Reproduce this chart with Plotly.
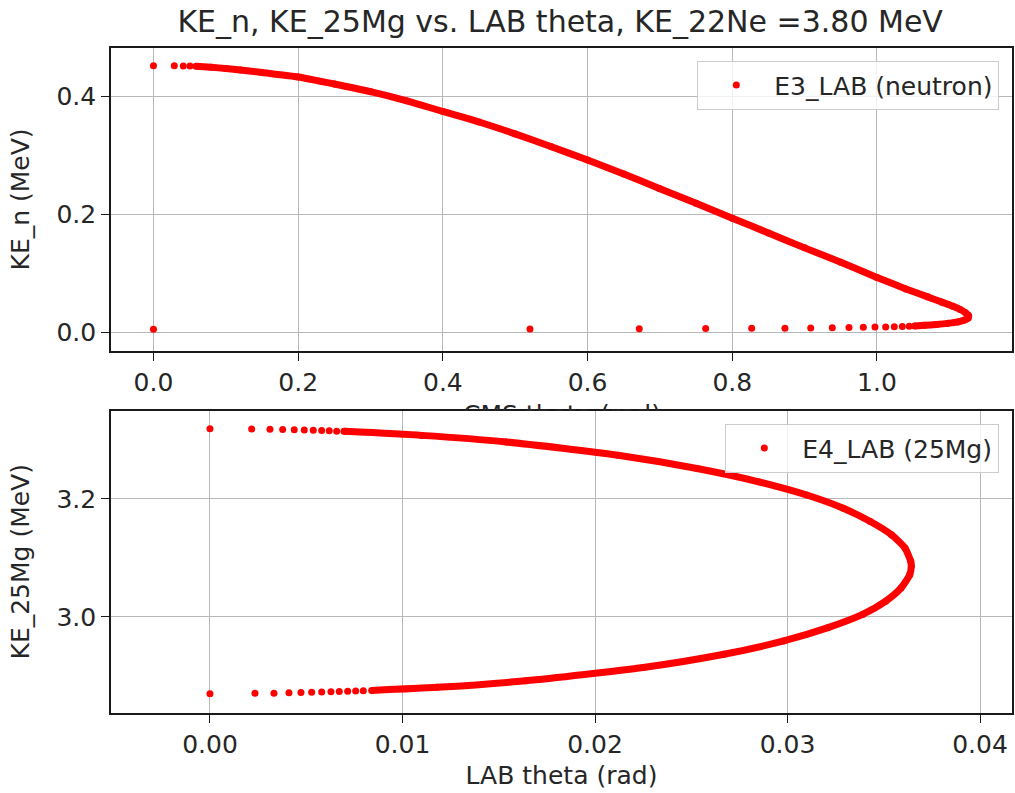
import plotly.graph_objects as go

# ---------------- data ----------------
# Top panel: KE_n vs angle -- isolated (resolvable) dots
n_sparse_x = [0.0, 0.0288, 0.0412, 0.0505,
              0.0, 0.5204, 0.6714, 0.7632, 0.8268, 0.8728, 0.9084, 0.9382,
              0.9613, 0.9811, 0.9972, 1.0120, 1.0239, 1.0350, 1.0446]
n_sparse_y = [0.4526, 0.4524, 0.4522, 0.4520,
              0.0050, 0.0054, 0.0058, 0.0061, 0.0065, 0.0068, 0.0072, 0.0075,
              0.0079, 0.0083, 0.0086, 0.0090, 0.0094, 0.0097, 0.0101]
# Top panel: dense (overlapping) part of the same point series
n_dense_x = [0.0588, 0.08, 0.10, 0.12, 0.15, 0.20, 0.25, 0.30, 0.35, 0.40,
             0.45, 0.50, 0.55, 0.60, 0.65, 0.70, 0.75, 0.80, 0.85, 0.90,
             0.95, 1.00, 1.04, 1.07, 1.09, 1.105, 1.115, 1.122, 1.1265,
             1.126, 1.121, 1.112, 1.098, 1.082, 1.066, 1.052]
n_dense_y = [0.4518, 0.4500, 0.4478, 0.4455, 0.4410, 0.4335, 0.4215, 0.4085,
             0.3930, 0.3750, 0.3570, 0.3368, 0.3150, 0.2923, 0.2685, 0.2438,
             0.2189, 0.1937, 0.1685, 0.1432, 0.1189, 0.0930, 0.0735, 0.0600,
             0.0510, 0.0440, 0.0385, 0.0335, 0.0285, 0.0240, 0.0205, 0.0175,
             0.0150, 0.0130, 0.0116, 0.0106]

# Bottom panel: KE_25Mg vs LAB theta -- isolated dots
mg_sparse_x = [0.0, 0.002166, 0.003117, 0.003777, 0.004379, 0.004899,
               0.005366, 0.005803, 0.006197, 0.006582, 0.006961,
               0.0, 0.002338, 0.003325, 0.004104, 0.004727, 0.005283,
               0.005803, 0.006286, 0.006717, 0.007153, 0.007569, 0.007964]
mg_sparse_y = [3.3192, 3.3187, 3.3183, 3.3178, 3.3174, 3.3169,
               3.3165, 3.3160, 3.3156, 3.3151, 3.3147,
               2.8698, 2.8703, 2.8707, 2.8712, 2.8716, 2.8721,
               2.8725, 2.8730, 2.8734, 2.8739, 2.8743, 2.8748]
# Bottom panel: dense part
mg_dense_x = [0.0070, 0.0110, 0.0154, 0.0212, 0.0253, 0.0285, 0.0310, 0.0329,
              0.0343, 0.0354, 0.0361, 0.0364, 0.03643, 0.03635, 0.0359,
              0.0351, 0.0339, 0.0321, 0.0298, 0.0267, 0.0225, 0.0164,
              0.0118, 0.0084]
mg_dense_y = [3.3147, 3.3079, 3.2967, 3.2742, 3.2517, 3.2292, 3.2067, 3.1842,
              3.1617, 3.1392, 3.1167, 3.0942, 3.0860, 3.0717, 3.0492,
              3.0267, 3.0042, 2.9817, 2.9592, 2.9367, 2.9142, 2.8917,
              2.8805, 2.8752]

top_xticks = [0.0, 0.2, 0.4, 0.6, 0.8, 1.0]
top_yticks = [0.0, 0.2, 0.4]
bot_xticks = [0.00, 0.01, 0.02, 0.03, 0.04]
bot_yticks = [3.0, 3.2]

RED = "#ff0000"
FONT = "DejaVu Sans"
FS = 25
MS = 7

fig = go.Figure()

fig.add_trace(go.Scatter(x=n_dense_x, y=n_dense_y, mode="lines+markers",
                         line=dict(color=RED, width=MS, shape="spline", smoothing=0.6),
                         marker=dict(color=RED, size=MS),
                         showlegend=False, xaxis="x", yaxis="y", hoverinfo="skip"))
fig.add_trace(go.Scatter(x=n_sparse_x, y=n_sparse_y, mode="markers",
                         marker=dict(color=RED, size=MS),
                         name="E3_LAB (neutron)", legend="legend",
                         xaxis="x", yaxis="y"))
fig.add_trace(go.Scatter(x=mg_dense_x, y=mg_dense_y, mode="lines+markers",
                         line=dict(color=RED, width=MS, shape="spline", smoothing=0.6),
                         marker=dict(color=RED, size=MS),
                         showlegend=False, xaxis="x2", yaxis="y2", hoverinfo="skip"))
fig.add_trace(go.Scatter(x=mg_sparse_x, y=mg_sparse_y, mode="markers",
                         marker=dict(color=RED, size=MS),
                         name="E4_LAB (25Mg)", legend="legend2",
                         xaxis="x2", yaxis="y2"))

axis_common = dict(showline=True, mirror=True, linecolor="#1a1a1a", linewidth=1.6,
                   ticks="outside", ticklen=8, tickwidth=1.4, tickcolor="#1a1a1a",
                   showgrid=True, gridcolor="#b8b8b8", gridwidth=1.3, zeroline=False,
                   automargin=False,
                   tickfont=dict(family=FONT, size=FS, color="#262626"))
title_font = dict(family=FONT, size=FS, color="#262626")

fig.update_layout(
    width=1015, height=793,
    margin=dict(l=111, r=3, t=48, b=80, autoexpand=False),
    paper_bgcolor="white", plot_bgcolor="white",
    font=dict(family=FONT, size=FS, color="#262626"),
    title=dict(text="KE_n, KE_25Mg vs. LAB theta, KE_22Ne =3.80 MeV",
               font=dict(family=FONT, size=30, color="#262626"),
               x=0.4985, xanchor="center", xref="paper",
               y=0.9735, yanchor="middle", yref="container"),
    xaxis=dict(domain=[0, 1], anchor="y", range=[-0.0587, 1.1866],
               tickvals=top_xticks, tickformat=".1f", **axis_common),
    yaxis=dict(domain=[0.5446, 1], anchor="x", range=[-0.0317, 0.4827],
               tickvals=top_yticks, tickformat=".1f",
               title=dict(text="KE_n (MeV)", font=title_font, standoff=20),
               **axis_common),
    xaxis2=dict(domain=[0, 1], anchor="y2", range=[-0.00514, 0.04166],
                tickvals=bot_xticks, tickformat=".2f",
                title=dict(text="LAB theta (rad)", font=title_font, standoff=9),
                **axis_common),
    yaxis2=dict(domain=[0, 0.4548], anchor="x2", range=[2.837, 3.350],
                tickvals=bot_yticks, tickformat=".1f",
                title=dict(text="KE_25Mg (MeV)", font=title_font, standoff=20),
                **axis_common),
    legend=dict(x=0.9856, xanchor="right", y=0.9805, yanchor="top",
                bgcolor="rgba(255,255,255,0.8)", bordercolor="#cccccc", borderwidth=1.3,
                font=dict(family=FONT, size=FS, color="#262626"), itemwidth=66),
    legend2=dict(x=0.9856, xanchor="right", y=0.4348, yanchor="top",
                 bgcolor="rgba(255,255,255,0.8)", bordercolor="#cccccc", borderwidth=1.3,
                 font=dict(family=FONT, size=FS, color="#262626"), itemwidth=66),
    annotations=[dict(text="CMS theta (rad)", xref="paper", yref="paper",
                      x=0.5, xanchor="center", y=0.4724, yanchor="top",
                      height=11, valign="top", borderpad=0, showarrow=False,
                      font=title_font)],
)

# remove the browser's default 8px body margin so the figure fills the window
fig.write_html("out.html",
               config={"displayModeBar": False},
               post_script="document.body.style.margin='0';document.body.style.overflow='hidden';")
